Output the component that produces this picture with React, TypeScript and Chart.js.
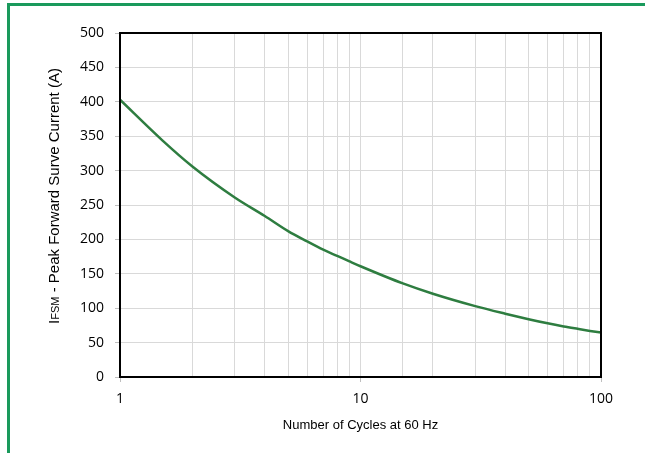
import React, { useEffect, useRef } from "react";
import { Chart, registerables } from "chart.js";

Chart.register(...registerables);

const cycles = [1, 1.5, 2, 3, 4, 5, 6, 7, 8, 9, 10, 15, 20, 30, 40, 50, 60, 70, 80, 90, 100];
const current = [403, 344, 306, 261, 234, 212, 197, 185, 176, 168, 161, 136, 121, 103, 92, 84, 78, 73.5, 70, 67, 64.5];
const xTickLabels = [1, 10, 100];
const yTitleParts = [
  { text: "I", size: 15 },
  { text: "FSM", size: 11 },
  { text: " - Peak Forward Surve Current (A)", size: 15 },
];
const xTitle = "Number of Cycles at 60 Hz";

const framePlugin = {
  id: "frame",
  beforeDraw(chart: any) {
    const ctx = chart.ctx;
    ctx.save();
    ctx.strokeStyle = "#1a9a5c";
    ctx.lineWidth = 3;
    ctx.strokeRect(8.5, 4.5, 700, 500);
    ctx.restore();
  },
  afterDraw(chart: any) {
    const { ctx, chartArea } = chart;
    ctx.save();
    ctx.strokeStyle = "#000";
    ctx.lineWidth = 2;
    ctx.strokeRect(chartArea.left, chartArea.top, chartArea.right - chartArea.left, chartArea.bottom - chartArea.top);
    const fam = "'Liberation Sans', Arial, sans-serif";
    let total = 0;
    for (const p of yTitleParts) {
      ctx.font = `${p.size}px ${fam}`;
      total += ctx.measureText(p.text).width;
    }
    const centerY = 196;
    ctx.translate(59, centerY + total / 2);
    ctx.rotate(-Math.PI / 2);
    ctx.fillStyle = "#000";
    ctx.textBaseline = "alphabetic";
    ctx.textAlign = "left";
    let x = 0;
    for (const p of yTitleParts) {
      ctx.font = `${p.size}px ${fam}`;
      ctx.fillText(p.text, x, 0);
      x += ctx.measureText(p.text).width;
    }
    ctx.restore();
  },
};

export default function App() {
  const ref = useRef<HTMLCanvasElement>(null);
  useEffect(() => {
    if (!ref.current) return;
    const chart = new Chart(ref.current, {
      type: "line",
      data: {
        datasets: [
          {
            data: cycles.map((c, i) => ({ x: c, y: current[i] })),
            borderColor: "#2e7d40",
            borderWidth: 2.5,
            pointRadius: 0,
            cubicInterpolationMode: "monotone",
            fill: false,
          },
        ],
      },
      options: {
        responsive: false,
        animation: false,
        layout: { padding: { left: 20, right: 44, top: 33, bottom: 16 } },
        plugins: { legend: { display: false }, tooltip: { enabled: false } },
        scales: {
          x: {
            type: "logarithmic",
            min: 1,
            max: 100,
            afterFit: (s: any) => {
              s.height = 60;
            },
            border: { display: true, color: "#000", width: 2 },
            grid: {
              color: "#d9d9d9",
              lineWidth: 1,
              tickLength: 5,
              tickColor: (ctx: any) =>
                ctx.tick && xTickLabels.includes(ctx.tick.value) ? "#bfbfbf" : "rgba(0,0,0,0)",
            },
            ticks: {
              autoSkip: false,
              maxRotation: 0,
              padding: 9,
              color: "#000",
              font: { family: "'Open Sans', sans-serif", size: 14 },
              callback: (v: any) => (xTickLabels.includes(Number(v)) ? String(v) : ""),
            },
            title: {
              display: true,
              text: xTitle,
              color: "#000",
              font: { family: "'Liberation Sans', Arial, sans-serif", size: 13 },
              padding: { top: 4, bottom: 4 },
            },
          },
          y: {
            type: "linear",
            min: 0,
            max: 500,
            afterFit: (s: any) => {
              s.width = 100;
            },
            border: { display: true, color: "#000", width: 2 },
            grid: { color: "#d9d9d9", lineWidth: 1, tickLength: 5, tickColor: "#bfbfbf" },
            ticks: {
              stepSize: 50,
              padding: 11,
              color: "#000",
              font: { family: "'Open Sans', sans-serif", size: 14 },
            },
          },
        },
      },
      plugins: [framePlugin],
    });
    return () => chart.destroy();
  }, []);
  return (
    <canvas
      ref={ref}
      width={645}
      height={453}
      style={{ position: "fixed", left: 0, top: 0, width: 645, height: 453, background: "#fff" }}
    />
  );
}
